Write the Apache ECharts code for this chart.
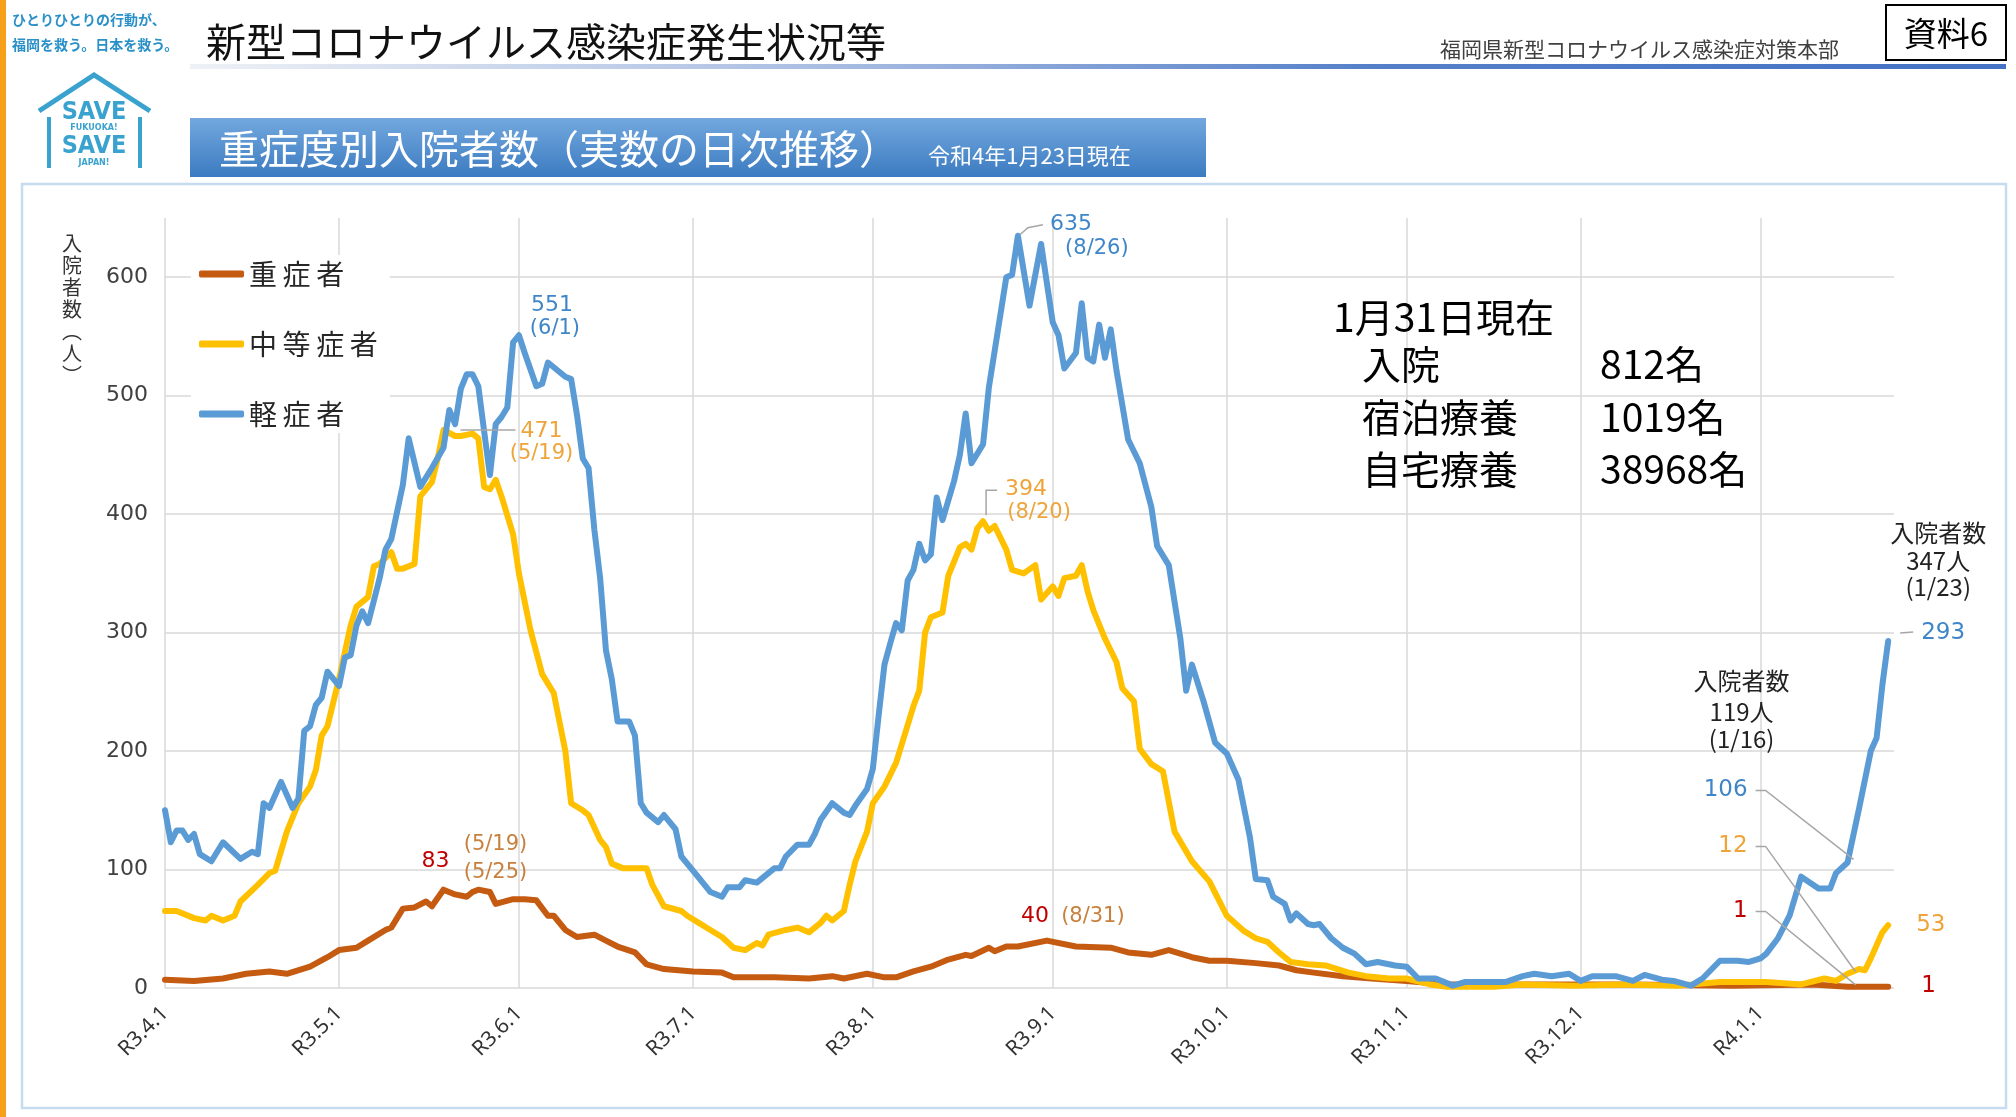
<!DOCTYPE html>
<html>
<head>
<meta charset="utf-8">
<script src="https://cdn.jsdelivr.net/npm/echarts@6/dist/echarts.min.js"></script>
<style>
  html, body { margin: 0; padding: 0; background: #fff; }
  #chart { width: 2016px; height: 1117px; }
</style>
</head>
<body>
<div id="chart"></div>
<script>
// days counted from 2021-04-01 (R3.4.1)
const monthTicks = ['4/1', '5/1', '6/1', '7/1', '8/1', '9/1', '10/1', '11/1', '12/1', '1/1']
const monthLabels = ['R3.4.1', 'R3.5.1', 'R3.6.1', 'R3.7.1', 'R3.8.1', 'R3.9.1', 'R3.10.1', 'R3.11.1', 'R3.12.1', 'R4.1.1']

// [day, patients]
const severe = [[0,7],[5,6],[10,8],[14,12],[18,14],[21,12],[25,18],[28,26],[30,32],[33,34],[35,40],[38,49],[39,51],[41,67],[43,68],[45,73],[46,69],[48,83],[50,79],[52,77],[53,81],[54,83],[56,81],[57,71],[60,75],[62,75],[64,74],[66,61],[67,61],[69,49],[71,43],[74,45],[76,40],[78,35],[81,30],[83,20],[86,16],[91,14],[96,13],[98,9],[105,9],[111,8],[115,10],[117,8],[121,12],[124,9],[126,9],[129,14],[132,18],[135,24],[138,28],[139,27],[142,34],[143,31],[145,35],[147,35],[152,40],[157,35],[163,34],[166,30],[170,28],[173,32],[177,26],[180,23],[183,23],[188,21],[192,19],[195,15],[198,13],[203,10],[208,8],[214,6],[221,3],[238,3],[253,3],[270,2],[284,3],[290,1],[297,1]]

const moderate = [[0,65],[2,65],[5,59],[7,57],[8,61],[10,57],[12,61],[13,73],[16,87],[18,97],[19,99],[21,132],[23,156],[25,170],[26,184],[27,213],[28,221],[30,261],[32,306],[33,322],[35,330],[36,356],[37,358],[39,368],[40,354],[41,354],[43,358],[44,415],[46,427],[47,447],[48,471],[50,466],[51,466],[53,468],[54,464],[55,423],[56,421],[57,429],[58,415],[60,383],[61,350],[62,326],[63,302],[65,265],[67,249],[69,200],[70,156],[72,150],[73,146],[75,125],[76,119],[77,105],[79,101],[81,101],[83,101],[84,87],[86,69],[89,65],[90,61],[92,55],[94,49],[96,43],[98,34],[100,32],[102,38],[103,36],[104,45],[107,49],[109,51],[111,47],[113,55],[114,61],[115,57],[117,65],[118,87],[119,107],[121,132],[122,156],[124,170],[126,190],[128,222],[129,238],[130,251],[131,300],[132,313],[134,317],[135,348],[137,372],[138,375],[139,370],[140,388],[141,394],[142,386],[143,390],[145,370],[146,353],[148,350],[150,357],[151,328],[153,339],[154,331],[155,346],[157,348],[158,357],[159,335],[160,319],[162,295],[164,275],[165,253],[167,242],[168,202],[170,189],[172,183],[174,132],[177,107],[180,90],[183,61],[186,48],[188,42],[190,39],[192,30],[194,22],[197,20],[200,19],[204,13],[207,10],[211,8],[214,8],[218,3],[221,1],[229,1],[234,3],[243,2],[251,3],[261,2],[268,5],[276,5],[282,3],[286,8],[288,6],[290,12],[292,16],[293,15],[294,25],[296,47],[297,53]]

const mild = [[0,150],[1,123],[2,133],[3,133],[4,125],[5,130],[6,113],[8,107],[10,123],[13,109],[15,115],[16,113],[17,156],[18,152],[20,174],[22,152],[23,160],[24,217],[25,221],[26,239],[27,245],[28,267],[30,255],[31,279],[32,281],[33,306],[34,318],[35,308],[37,346],[38,370],[39,379],[41,425],[42,464],[44,423],[46,439],[48,456],[49,488],[50,476],[51,506],[52,518],[53,518],[54,508],[55,470],[56,433],[57,476],[58,482],[59,490],[60,545],[61,551],[62,536],[64,508],[65,510],[66,528],[68,520],[69,516],[70,514],[71,484],[72,447],[73,439],[74,387],[75,346],[76,285],[77,261],[78,225],[80,225],[81,213],[82,156],[83,148],[85,140],[86,146],[88,134],[89,111],[91,99],[93,87],[94,81],[96,77],[97,85],[99,85],[100,91],[102,89],[104,97],[105,101],[106,101],[107,111],[109,121],[111,121],[112,130],[113,142],[115,156],[117,148],[118,146],[119,154],[121,168],[122,185],[123,230],[124,273],[125,291],[126,308],[127,302],[128,344],[129,353],[130,375],[131,361],[132,366],[133,414],[134,395],[136,428],[137,450],[138,485],[139,443],[141,459],[142,507],[143,538],[145,600],[146,602],[147,635],[149,576],[151,628],[153,562],[154,551],[155,523],[157,536],[158,578],[159,532],[160,529],[161,560],[162,532],[163,556],[164,521],[166,463],[168,443],[170,406],[171,373],[173,357],[175,295],[176,251],[177,273],[179,242],[181,207],[183,198],[185,176],[187,127],[188,92],[190,91],[191,77],[193,71],[194,57],[195,63],[197,54],[198,53],[199,54],[201,42],[203,34],[205,29],[207,20],[209,22],[212,19],[214,18],[216,8],[219,8],[222,2],[224,5],[228,5],[231,5],[234,10],[236,12],[239,10],[242,12],[244,6],[246,10],[250,10],[253,6],[255,11],[258,7],[260,6],[263,2],[265,8],[268,23],[271,23],[273,22],[275,25],[276,29],[278,42],[280,61],[282,94],[285,84],[287,84],[288,97],[290,106],[292,152],[294,200],[295,211],[296,256],[297,293]]

const summaryLabels = ['入院', '宿泊療養', '自宅療養']
const summaryValues = ['812名', '1019名', '38968名']

const days = []
for (let i = 0; i < 299; i++) {
  const d = new Date(2021, 3, 1 + i)
  days.push((d.getMonth() + 1) + '/' + d.getDate())
}

const JP = '"Noto Sans CJK JP"'
const NUM = '"DejaVu Sans"'
const BLUE = '#5b9bd5'
const GOLD = '#ffc000'
const BROWN = '#c55a11'
const blueText = '#3f86c8'
const goldText = '#eea43a'
const brownText = '#c8803e'
const redText = '#c00000'

const chart = echarts.init(document.getElementById('chart'))

function toSeries(arr) {
  return arr.map(p => [days[p[0]], p[1]])
}

function line(name, data, color) {
  return {
    name: name,
    type: 'line',
    data: toSeries(data),
    symbol: 'none',
    lineStyle: { width: 6, color: color, join: 'round', cap: 'round' },
    itemStyle: { color: color },
    emphasis: { disabled: true }
  }
}

chart.setOption({
  animation: false,
  backgroundColor: '#fff',
  grid: { left: 165, right: 122, top: 218, bottom: 129 },
  legend: {
    data: ['重症者', '中等症者', '軽症者'],
    orient: 'vertical',
    left: 191,
    top: 255,
    icon: 'roundRect',
    itemWidth: 45,
    itemHeight: 7,
    itemGap: 40,
    backgroundColor: '#fff',
    padding: [4, 12, 4, 8],
    formatter: n => n.split('').join('\u2009'),
    textStyle: { fontSize: 28, lineHeight: 30, color: '#262626', fontFamily: JP }
  },
  xAxis: {
    type: 'category',
    data: days,
    boundaryGap: false,
    axisLine: { show: false },
    axisTick: { show: false },
    axisLabel: {
      interval: (i, v) => monthTicks.includes(v),
      formatter: v => monthLabels[monthTicks.indexOf(v)],
      rotate: 45,
      margin: 22,
      fontSize: 21,
      color: '#333',
      fontFamily: '"Noto Sans"'
    },
    splitLine: {
      show: true,
      interval: (i, v) => monthTicks.includes(v),
      lineStyle: { color: '#d9d9d9', width: 1.5 }
    }
  },
  yAxis: {
    type: 'value',
    min: 0,
    max: 650,
    interval: 100,
    axisLine: { show: false },
    axisTick: { show: false },
    axisLabel: {
      formatter: v => (v % 100 === 0 ? String(v) : ''),
      showMaxLabel: false,
      fontSize: 22,
      color: '#404040',
      fontFamily: NUM,
      margin: 17
    },
    splitLine: { showMaxLine: false, lineStyle: { color: '#d9d9d9', width: 1.5 } }
  },
  series: [
    line('重症者', severe, BROWN),
    line('中等症者', moderate, GOLD),
    line('軽症者', mild, BLUE)
  ]
})

// ---- text, frame and annotations ----
function txt(x, y, s, size, color, extra) {
  return {
    type: 'text', x: x, y: y, z: 50,
    style: Object.assign({ text: s, fontSize: size, fontFamily: JP, fill: color, align: 'left', verticalAlign: 'middle' }, extra || {})
  }
}
function poly(points, color, width) {
  return { type: 'polyline', z: 50, shape: { points: points }, style: { stroke: color || '#a6a6a6', lineWidth: width || 1.5, fill: null } }
}
const pt = (d, v) => chart.convertToPixel({ gridIndex: 0 }, [d, v])

const g = []
// page decoration
g.push({ type: 'rect', shape: { x: 0, y: 0, width: 6, height: 1117 }, style: { fill: '#f7a11a' } })
g.push(txt(12, 20, 'ひとりひとりの行動が、', 14, '#2a90c8', { fontWeight: 'bold' }))
g.push(txt(12, 45, '福岡を救う。日本を救う。', 14, '#2a90c8', { fontWeight: 'bold' }))
g.push(txt(206, 42, '新型コロナウイルス感染症発生状況等', 40, '#111'))
g.push({
  type: 'rect', shape: { x: 190, y: 64, width: 1816, height: 5 },
  style: { fill: new echarts.graphic.LinearGradient(0, 0, 1, 0, [
    { offset: 0, color: '#eef1f6' }, { offset: 0.35, color: '#a9bde2' },
    { offset: 0.65, color: '#5580c9' }, { offset: 1, color: '#4472c4' }]) }
})
g.push(txt(1440, 49, '福岡県新型コロナウイルス感染症対策本部', 21, '#404040'))
g.push({ type: 'rect', shape: { x: 1886, y: 5, width: 120, height: 55 }, style: { fill: '#fff', stroke: '#000', lineWidth: 2 } })
g.push(txt(1946, 33, '資料6', 33, '#000', { align: 'center' }))

// logo
const LOGO = '#3aa2cf'
g.push(poly([[39, 111], [94, 75], [150, 111]], LOGO, 5))
g.push(poly([[49, 117], [49, 168]], LOGO, 4))
g.push(poly([[140, 117], [140, 168]], LOGO, 4))
g.push(txt(94, 112, 'SAVE', 25, LOGO, { align: 'center', fontWeight: 'bold', fontFamily: '"DejaVu Sans Condensed", "DejaVu Sans"' }))
g.push(txt(94, 128, 'FUKUOKA!', 8, LOGO, { align: 'center', fontWeight: 'bold', fontFamily: NUM }))
g.push(txt(94, 146, 'SAVE', 25, LOGO, { align: 'center', fontWeight: 'bold', fontFamily: '"DejaVu Sans Condensed", "DejaVu Sans"' }))
g.push(txt(94, 163, 'JAPAN!', 8, LOGO, { align: 'center', fontWeight: 'bold', fontFamily: NUM }))

// heading bar
g.push({
  type: 'rect', shape: { x: 190, y: 118, width: 1016, height: 59 },
  style: { fill: new echarts.graphic.LinearGradient(0, 0, 0, 1, [
    { offset: 0, color: '#72a8de' }, { offset: 1, color: '#3c7bc1' }]) }
})
g.push(txt(219, 149, '重症度別入院者数（実数の日次推移）', 40, '#fff'))
g.push(txt(928, 156, '令和4年1月23日現在', 22, '#fff'))

// chart frame
g.push({ type: 'rect', z: -1, shape: { x: 22, y: 184, width: 1984, height: 924 }, style: { fill: null, stroke: '#c5dbef', lineWidth: 2.5 } })

// axis name
g.push(txt(72, 232, '入\n院\n者\n数\n︵\n人\n︶', 20, '#333', { align: 'center', verticalAlign: 'top', lineHeight: 22 }))

// summary box
g.push(txt(1333, 317, '1月31日現在', 39, '#000'))
const rowY = [364, 417, 469]
summaryLabels.forEach((s, i) => {
  g.push(txt(1362, rowY[i], s, 39, '#000'))
  g.push(txt(1600, rowY[i], summaryValues[i], 39, '#000'))
})

// peak notes
let p = pt(61, 551)
g.push(txt(p[0] + 33, p[1] - 30, '551', 22, blueText, { align: 'center', fontFamily: NUM }))
g.push(txt(p[0] + 36, p[1] - 7, '(6/1)', 21, blueText, { align: 'center', fontFamily: NUM }))

p = pt(48, 471)
g.push(poly([[p[0] + 17, p[1]], [p[0] + 72, p[1]]]))
g.push(txt(p[0] + 98, p[1] + 1, '471', 22, goldText, { align: 'center', fontFamily: NUM }))
g.push(txt(p[0] + 98, p[1] + 24, '(5/19)', 21, goldText, { align: 'center', fontFamily: NUM }))

p = pt(48, 83)
g.push(txt(p[0] - 8, p[1] - 28, '83', 22, redText, { align: 'center', fontFamily: NUM }))
g.push(txt(p[0] + 52, p[1] - 45, '(5/19)', 21, brownText, { align: 'center', fontFamily: NUM }))
g.push(txt(p[0] + 52, p[1] - 17, '(5/25)', 21, brownText, { align: 'center', fontFamily: NUM }))

p = pt(147, 635)
g.push(poly([[p[0] + 2, p[1] - 1], [p[0] + 10, p[1] - 8], [p[0] + 25, p[1] - 11]]))
g.push(txt(p[0] + 32, p[1] - 11, '635', 22, blueText, { fontFamily: NUM }))
g.push(txt(p[0] + 79, p[1] + 13, '(8/26)', 21, blueText, { align: 'center', fontFamily: NUM }))

p = pt(141, 394)
g.push(poly([[p[0] + 3, p[1] - 6], [p[0] + 3, p[1] - 31], [p[0] + 14, p[1] - 31]]))
g.push(txt(p[0] + 22, p[1] - 32, '394', 22, goldText, { fontFamily: NUM }))
g.push(txt(p[0] + 56, p[1] - 9, '(8/20)', 21, goldText, { align: 'center', fontFamily: NUM }))

p = pt(152, 40)
g.push(txt(p[0] - 12, p[1] - 24, '40', 22, redText, { align: 'center', fontFamily: NUM }))
g.push(txt(p[0] + 46, p[1] - 24, '(8/31)', 21, brownText, { align: 'center', fontFamily: NUM }))

// latest day notes (1/23)
p = pt(297, 293)
g.push(txt(p[0] + 50, p[1] - 108, '入院者数', 24, '#222', { align: 'center' }))
g.push(txt(p[0] + 50, p[1] - 80, '347人', 24, '#222', { align: 'center' }))
g.push(txt(p[0] + 50, p[1] - 54, '(1/23)', 24, '#222', { align: 'center' }))
g.push(poly([[p[0] + 12, p[1] - 8], [p[0] + 25, p[1] - 9]]))
g.push(txt(p[0] + 33, p[1] - 8, '293', 23, blueText, { fontFamily: NUM }))
p = pt(297, 53)
g.push(txt(p[0] + 28, p[1], '53', 23, goldText, { fontFamily: NUM }))
p = pt(297, 1)
g.push(txt(p[0] + 33, p[1] - 1, '1', 23, redText, { fontFamily: NUM }))

// 1/16 notes
const pb = pt(290, 106)
const po = pt(290, 12)
const pr = pt(290, 1)
g.push(txt(pb[0] - 106, pb[1] - 182, '入院者数', 24, '#222', { align: 'center' }))
g.push(txt(pb[0] - 106, pb[1] - 151, '119人', 24, '#222', { align: 'center' }))
g.push(txt(pb[0] - 106, pb[1] - 124, '(1/16)', 24, '#222', { align: 'center' }))
const lx = pb[0] - 100
const ny = [pb[1] - 72, pb[1] - 16, pb[1] + 49]
g.push(txt(lx, ny[0], '106', 23, blueText, { align: 'right', fontFamily: NUM }))
g.push(txt(lx, ny[1], '12', 23, goldText, { align: 'right', fontFamily: NUM }))
g.push(txt(lx, ny[2], '1', 23, redText, { align: 'right', fontFamily: NUM }))
g.push(poly([[lx + 8, ny[0]], [lx + 18, ny[0]], [pb[0] + 6, pb[1] - 3]]))
g.push(poly([[lx + 8, ny[1]], [lx + 18, ny[1]], [po[0] + 8, po[1] - 2]]))
g.push(poly([[lx + 8, ny[2]], [lx + 18, ny[2]], [pr[0] + 8, pr[1] - 2]]))

chart.setOption({ graphic: g })
</script>
</body>
</html>
